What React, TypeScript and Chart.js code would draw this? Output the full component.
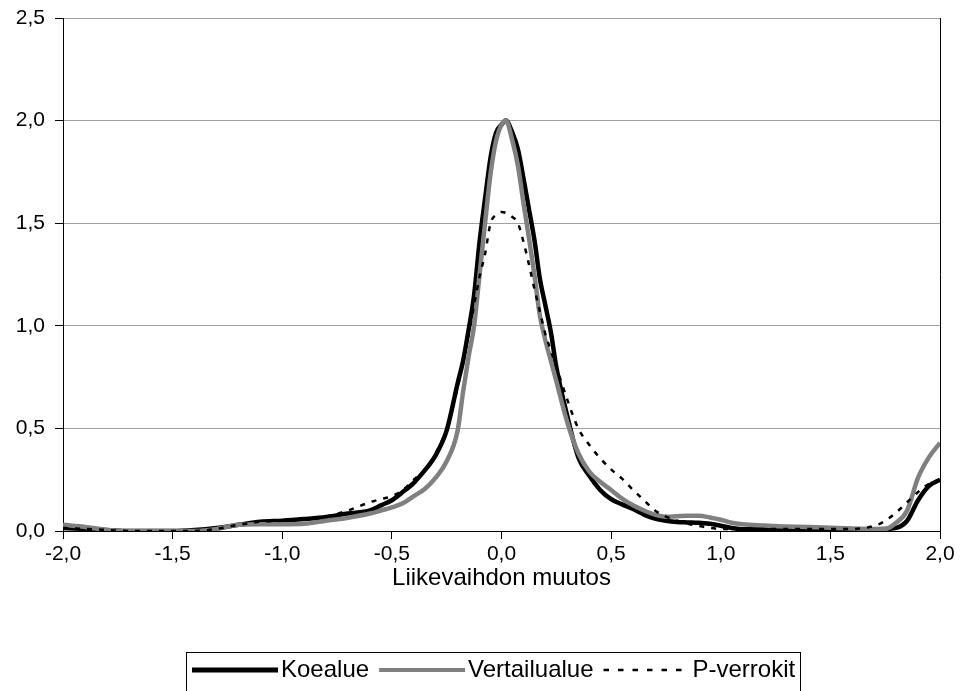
import React, { useEffect, useRef } from "react";
import { Chart, registerables } from "chart.js";

Chart.register(...registerables);

const xValues = [
  -2.0, -1.9, -1.8, -1.7, -1.6, -1.5, -1.4, -1.3, -1.2, -1.1,
  -1.0, -0.9, -0.8, -0.7, -0.6, -0.55, -0.5, -0.45, -0.4, -0.35,
  -0.3, -0.25, -0.2, -0.175, -0.15, -0.125, -0.1, -0.075, -0.05, -0.025,
  0.0, 0.02, 0.05, 0.075, 0.1, 0.125, 0.15, 0.175, 0.2, 0.225,
  0.25, 0.3, 0.35, 0.4, 0.45, 0.5, 0.55, 0.6, 0.65, 0.7,
  0.75, 0.8, 0.85, 0.9, 0.95, 1.0, 1.05, 1.1, 1.2, 1.3,
  1.4, 1.5, 1.6, 1.7, 1.75, 1.8, 1.85, 1.9, 1.95, 2.0,
];

const koealue = [
  0.015, 0.01, 0.005, 0, 0, 0, 0.005, 0.015, 0.03, 0.045,
  0.05, 0.058, 0.068, 0.085, 0.1, 0.125, 0.15, 0.19, 0.235, 0.295,
  0.37, 0.49, 0.72, 0.83, 0.98, 1.15, 1.41, 1.62, 1.82, 1.94,
  1.98, 2.0, 1.94, 1.86, 1.72, 1.57, 1.42, 1.23, 1.1, 0.97,
  0.8, 0.56, 0.36, 0.27, 0.2, 0.155, 0.13, 0.107, 0.08, 0.06,
  0.05, 0.044, 0.042, 0.04, 0.035, 0.026, 0.015, 0.008, 0.008, 0.008,
  0.008, 0.008, 0.008, 0.008, 0.01, 0.015, 0.05, 0.15, 0.22, 0.25,
];

const vertailualue = [
  0.03, 0.02, 0.005, 0, 0, 0, 0, 0.01, 0.03, 0.033,
  0.033, 0.035, 0.05, 0.065, 0.085, 0.1, 0.115, 0.135, 0.17, 0.205,
  0.26, 0.34, 0.49, 0.68, 0.85, 1.0, 1.25, 1.5, 1.74, 1.9,
  1.98, 2.0, 1.9, 1.78, 1.6, 1.43, 1.25, 1.05, 0.93, 0.83,
  0.73, 0.53, 0.38, 0.29, 0.24, 0.2, 0.158, 0.125, 0.1, 0.08,
  0.07, 0.072, 0.074, 0.074, 0.066, 0.055, 0.04, 0.033, 0.027, 0.022,
  0.02, 0.016, 0.012, 0.01, 0.01, 0.04, 0.1, 0.26, 0.36, 0.43,
];

const pVerrokit = [
  0.015, 0.01, 0.005, 0, 0, 0, 0, 0.01, 0.03, 0.045,
  0.05, 0.058, 0.07, 0.1, 0.14, 0.155, 0.17, 0.2, 0.25, 0.3,
  0.38, 0.5, 0.7, 0.83, 0.96, 1.1, 1.24, 1.35, 1.5, 1.54,
  1.555, 1.55, 1.53, 1.5, 1.41, 1.3, 1.18, 1.07, 0.96, 0.88,
  0.8, 0.64, 0.5, 0.42, 0.355, 0.3, 0.255, 0.2, 0.15, 0.1,
  0.07, 0.05, 0.035, 0.025, 0.015, 0.01, 0.01, 0.01, 0.01, 0.01,
  0.01, 0.01, 0.01, 0.025, 0.05, 0.09, 0.14, 0.19, 0.23, 0.25,
];

const seriesLabels = ["Koealue", "Vertailualue", "P-verrokit"];

const FONT = "'Liberation Sans', Arial, sans-serif";

const fmt = (v: number) => Number(v).toFixed(1).replace(".", ",");

const toPoints = (ys: number[]) => xValues.map((x, i) => ({ x, y: ys[i] }));

const framePlugin = {
  id: "frameAndLegend",
  afterDraw(chart: any) {
    const { ctx, chartArea } = chart;
    ctx.save();
    // right border
    ctx.strokeStyle = "#000";
    ctx.lineWidth = 1;
    ctx.setLineDash([]);
    ctx.beginPath();
    ctx.moveTo(Math.round(chartArea.right) + 0.5, chartArea.top);
    ctx.lineTo(Math.round(chartArea.right) + 0.5, chartArea.bottom);
    ctx.stroke();

    // legend box
    const boxLeft = 186.5;
    const boxTop = 652.5;
    const boxRight = 800.5;
    ctx.strokeStyle = "#000";
    ctx.lineWidth = 1;
    ctx.strokeRect(boxLeft, boxTop, boxRight - boxLeft, 60);

    ctx.font = `24px ${FONT}`;
    ctx.textBaseline = "middle";
    ctx.textAlign = "left";
    ctx.fillStyle = "#000";
    const cy = 670;
    let x = 192;
    chart.data.datasets.forEach((ds: any) => {
      ctx.save();
      ctx.strokeStyle = ds.borderColor;
      ctx.lineWidth = ds.legendWidth;
      ctx.setLineDash(ds.borderDash && ds.borderDash.length ? [5.5, 9] : []);
      ctx.beginPath();
      ctx.moveTo(x, cy);
      ctx.lineTo(x + 86, cy);
      ctx.stroke();
      ctx.restore();
      const tx = x + 89;
      ctx.fillText(ds.label, tx, cy);
      x = tx + ctx.measureText(ds.label).width + 10;
    });
    ctx.restore();
  },
};

export default function App() {
  const canvasRef = useRef<HTMLCanvasElement | null>(null);

  useEffect(() => {
    if (!canvasRef.current) return;
    const chart = new Chart(canvasRef.current, {
      type: "line",
      data: {
        datasets: [
          {
            label: seriesLabels[0],
            data: toPoints(koealue),
            borderColor: "#000000",
            borderWidth: 4.5,
            legendWidth: 5,
            pointRadius: 0,
            cubicInterpolationMode: "monotone",
            order: 3,
          } as any,
          {
            label: seriesLabels[1],
            data: toPoints(vertailualue),
            borderColor: "#808080",
            borderWidth: 4.5,
            legendWidth: 4,
            pointRadius: 0,
            cubicInterpolationMode: "monotone",
            order: 2,
          } as any,
          {
            label: seriesLabels[2],
            data: toPoints(pVerrokit),
            borderColor: "#000000",
            borderWidth: 2.5,
            borderDash: [5, 7],
            legendWidth: 2.5,
            pointRadius: 0,
            cubicInterpolationMode: "monotone",
            order: 1,
          } as any,
        ],
      },
      options: {
        responsive: false,
        animation: false,
        devicePixelRatio: 1,
        layout: { padding: { left: 0, right: 20, top: 18, bottom: 90 } },
        plugins: {
          legend: { display: false },
          tooltip: { enabled: false },
        },
        scales: {
          x: {
            type: "linear",
            min: -2,
            max: 2,
            afterFit: (s: any) => {
              s.height = 70;
            },
            ticks: {
              stepSize: 0.5,
              callback: (v: any) => fmt(v),
              color: "#000",
              font: { family: FONT, size: 21 },
              padding: 3,
              maxRotation: 0,
            },
            grid: {
              drawOnChartArea: false,
              drawTicks: true,
              tickLength: 8,
              tickColor: "#000",
            },
            border: { color: "#000", width: 1 },
            title: {
              display: true,
              text: "Liikevaihdon muutos",
              color: "#000",
              font: { family: FONT, size: 24 },
              padding: { top: 0, bottom: 8 },
            },
          },
          y: {
            min: 0,
            max: 2.5,
            afterFit: (s: any) => {
              s.width = 63;
              s.paddingTop = 0;
              s.paddingBottom = 0;
            },
            ticks: {
              stepSize: 0.5,
              callback: (v: any) => fmt(v),
              color: "#000",
              font: { family: FONT, size: 21, lineHeight: 0.8 },
              padding: 10,
            },
            grid: {
              color: "#a0a0a0",
              lineWidth: 1,
              drawTicks: true,
              tickLength: 8,
              tickColor: "#000",
            },
            border: { color: "#000", width: 1 },
          },
        },
      },
      plugins: [framePlugin],
    } as any);
    return () => chart.destroy();
  }, []);

  return (
    <div style={{ position: "absolute", left: 0, top: 0, width: 960, height: 691, background: "#fff" }}>
      <canvas ref={canvasRef} width={960} height={691} style={{ display: "block" }} />
    </div>
  );
}
